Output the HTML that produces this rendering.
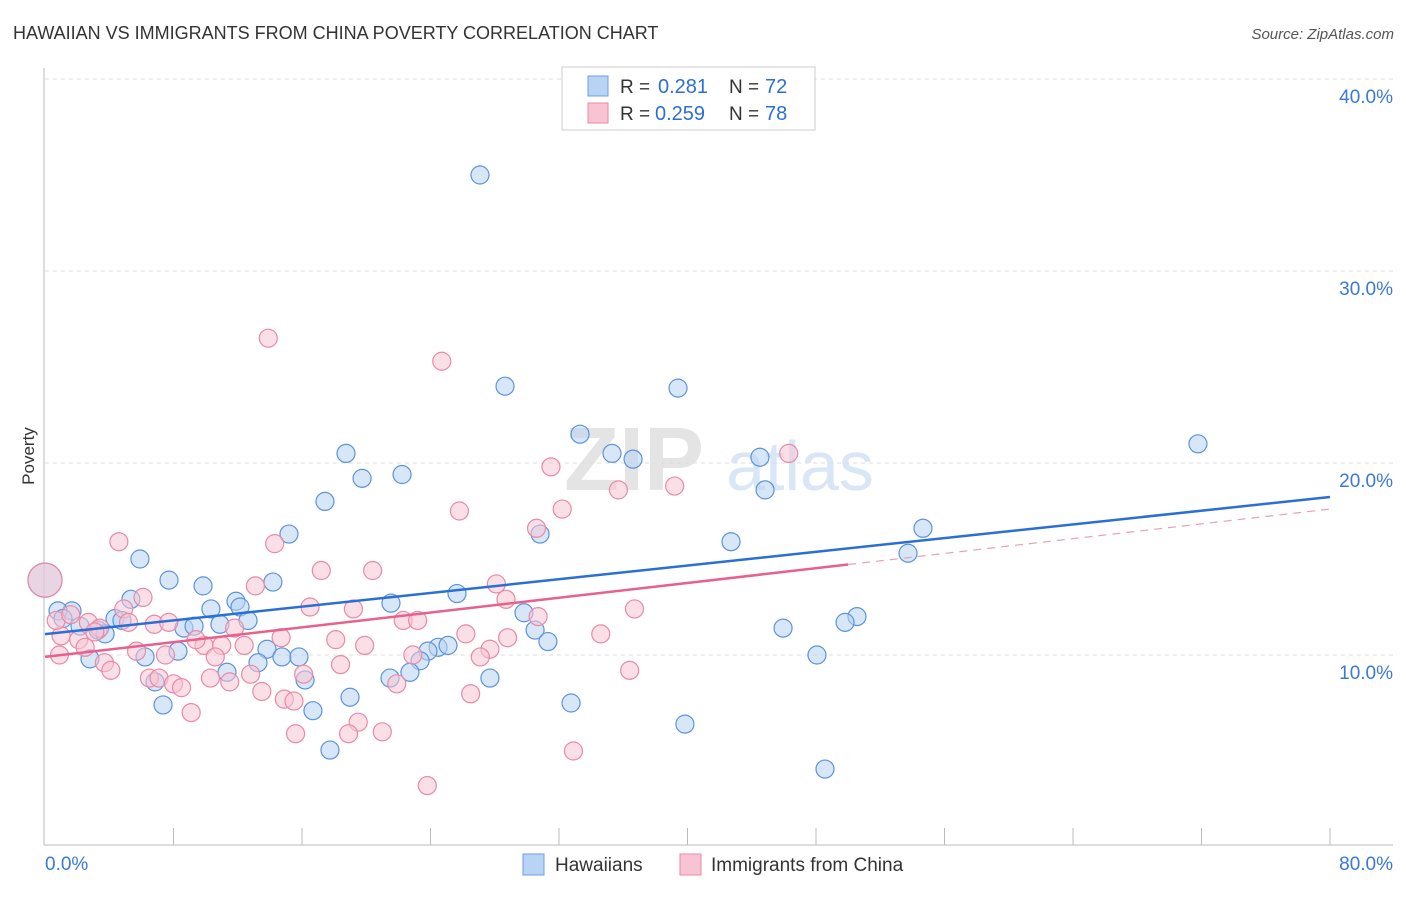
<!DOCTYPE html>
<html><head><meta charset="utf-8"><style>
body{margin:0;background:#fff;font-family:"Liberation Sans",sans-serif}
svg text{font-family:"Liberation Sans",sans-serif}
</style></head><body>
<svg id="c" width="1406" height="892">
<text x="13" y="39" font-size="18" fill="#333">HAWAIIAN VS IMMIGRANTS FROM CHINA POVERTY CORRELATION CHART</text>
<text x="1394" y="39" font-size="15" fill="#555" font-style="italic" text-anchor="end">Source: ZipAtlas.com</text>
<text x="634" y="490" font-size="90" fill="#e4e4e4" font-family="Liberation Serif" font-weight="bold" text-anchor="middle">ZIP</text>
<text x="800" y="490" font-size="70" fill="#d8e6f6" text-anchor="middle">atlas</text>
<text x="34" y="456" font-size="17" fill="#333" transform="rotate(-90 34 456)" text-anchor="middle">Poverty</text>
<g id="grid"></g><g id="marks"></g>
<g>
<rect x="562" y="67" width="253" height="63" fill="#fff" stroke="#ccc"/>
<rect x="588" y="76" width="20" height="20" fill="#b8d3f3" stroke="#6a9fe0"/>
<rect x="588" y="103" width="20" height="20" fill="#f8c4d3" stroke="#e88aa6"/>
<text x="620" y="93" font-size="19" fill="#333">R =</text>
<text x="658" y="93" font-size="20" fill="#2b6fd6">0.281</text>
<text x="729" y="93" font-size="19" fill="#333">N =</text>
<text x="765" y="93" font-size="20" fill="#2b6fd6">72</text>
<text x="620" y="120" font-size="19" fill="#333">R =</text>
<text x="655" y="120" font-size="20" fill="#2b6fd6">0.259</text>
<text x="729" y="120" font-size="19" fill="#333">N =</text>
<text x="765" y="120" font-size="20" fill="#2b6fd6">78</text>
</g>
<g>
<rect x="523" y="854" width="21" height="21" fill="#b8d3f3" stroke="#6a9fe0"/>
<text x="555" y="871" font-size="19" fill="#333">Hawaiians</text>
<rect x="680" y="854" width="21" height="21" fill="#f8c4d3" stroke="#e88aa6"/>
<text x="711" y="871" font-size="19" fill="#333">Immigrants from China</text>
</g>
</svg>
<script>
const yTicks=[10,20,30,40];
const blueX=[27.08,28.64,39.41,71.78,18.74,19.74,22.23,33.31,35.30,36.61,44.51,44.83,17.43,30.82,15.19,42.71,54.66,53.73,5.91,7.72,9.84,14.19,25.65,5.35,11.89,1.68,0.81,10.33,12.14,21.54,29.82,50.55,49.81,45.95,4.36,4.79,12.64,1.12,2.18,3.30,3.74,8.65,9.28,10.89,30.51,31.31,8.28,6.23,2.80,13.82,14.75,15.81,13.26,48.06,24.47,25.09,23.84,23.35,22.72,11.33,16.19,21.48,27.70,6.85,18.99,32.75,7.35,16.68,39.84,17.74,48.56,0];
const blueY=[35.0,24.0,23.9,21.0,20.5,19.2,19.4,21.5,20.5,20.2,20.3,18.6,18.0,16.3,16.3,15.9,16.6,15.3,15.0,13.9,13.6,13.8,13.2,12.9,12.8,12.3,12.3,12.4,12.5,12.7,12.2,12.0,11.7,11.4,11.9,11.8,11.8,11.9,11.5,11.3,11.1,11.4,11.5,11.6,11.3,10.7,10.2,9.9,9.8,10.3,9.9,9.9,9.6,10.0,10.4,10.5,10.2,9.7,9.1,9.1,8.7,8.8,8.8,8.6,7.8,7.5,7.4,7.1,6.4,5.05,4.06,13.9];
const pinkX=[13.9,24.7,31.5,39.2,46.3,35.7,25.8,32.2,30.6,4.6,14.3,17.2,20.4,13.1,28.1,6.1,28.7,4.9,16.5,19.2,36.7,30.7,22.3,23.2,2.7,3.4,5.2,6.8,7.7,11.8,14.7,18.1,19.9,26.2,34.6,28.8,9.9,11.0,12.4,2.1,1.0,0.7,2.5,5.7,7.5,10.6,22.9,27.7,27.1,3.7,4.1,18.4,16.1,12.8,10.3,6.5,7.1,8.0,8.5,11.5,13.5,14.9,15.5,21.9,26.5,36.4,9.1,19.5,18.9,15.6,21.0,32.9,23.8,0,1.6,3.1,9.4,0.9];
const pinkY=[26.5,25.3,19.8,18.8,20.5,18.6,17.5,17.6,16.6,15.9,15.8,14.4,14.4,13.6,13.7,13.0,12.9,12.4,12.5,12.4,12.4,12.0,11.8,11.8,11.7,11.4,11.7,11.6,11.7,11.4,10.9,10.8,10.5,11.1,11.1,10.9,10.5,10.5,10.5,10.8,11.0,11.8,10.4,10.2,10.0,9.9,10.0,10.3,9.9,9.6,9.2,9.5,9.0,9.0,8.8,8.8,8.8,8.5,8.3,8.6,8.1,7.7,7.6,8.5,7.98,9.2,7.0,6.5,5.9,5.9,6.0,5.0,3.2,13.9,12.1,11.2,10.8,10.0];
const blueLine=[11.09,18.23];
const pinkLine=[9.9,17.6];
const pinkSolidEnd=50;
const X=v=>45+v/80*1285, Y=v=>847-v*19.2;
const NS='http://www.w3.org/2000/svg';
function mk(p,t,a){const e=document.createElementNS(NS,t);for(const k in a)e.setAttribute(k,a[k]);p.appendChild(e);return e;}
const g=document.getElementById('grid'), m=document.getElementById('marks');
yTicks.forEach(t=>{
 const l=mk(g,'line',{x1:45,x2:1393,y1:Y(t),y2:Y(t),stroke:'#ddd','stroke-dasharray':'4 4'});
 
 
 const tx=mk(g,'text',{x:1393,y:Y(t)+24,'font-size':19,fill:'#3b78d8','text-anchor':'end'});tx.textContent=t.toFixed(1)+'%';
 
 
});
mk(g,'line',{x1:44,x2:44,y1:68,y2:845,stroke:'#bbb'});
mk(g,'line',{x1:44,x2:1393,y1:845,y2:845,stroke:'#bbb'});
for(let i=1;i<=10;i++){mk(g,'line',{x1:X(i*8),x2:X(i*8),y1:828,y2:845,stroke:'#bbb'});}
const x0=mk(g,'text',{x:45,y:870,'font-size':19,fill:'#3b78d8'});x0.textContent='0.0%';


const x1=mk(g,'text',{x:1393,y:870,'font-size':19,fill:'#3b78d8','text-anchor':'end'});x1.textContent='80.0%';


function pts(xs,ys,fill,stroke,name,bigIdx){xs.forEach((x,i)=>{
 const big=i===bigIdx;
 const c=mk(m,'circle',{cx:X(x),cy:Y(ys[i]),r:big?17:9,fill:fill,'fill-opacity':0.55,stroke:stroke,'stroke-width':1.2});
 
 
});}
pts(blueX,blueY,'#b8d3f3','#5b93dc','hawaiian',71);
pts(pinkX,pinkY,'#f8c4d3','#e88aa6','china',73);
const lb=mk(m,'line',{x1:X(0),y1:Y(blueLine[0]),x2:X(80),y2:Y(blueLine[1]),stroke:'#2a6fd6','stroke-width':2.5});


const pe=pinkLine[0]+(pinkLine[1]-pinkLine[0])*pinkSolidEnd/80;
const lp=mk(m,'line',{x1:X(0),y1:Y(pinkLine[0]),x2:X(pinkSolidEnd),y2:Y(pe),stroke:'#e8608c','stroke-width':2.5});


const ld=mk(m,'line',{x1:X(pinkSolidEnd),y1:Y(pe),x2:X(80),y2:Y(pinkLine[1]),stroke:'#e8a0b8','stroke-width':1.2,'stroke-dasharray':'8 6'});


</script>
</body></html>
